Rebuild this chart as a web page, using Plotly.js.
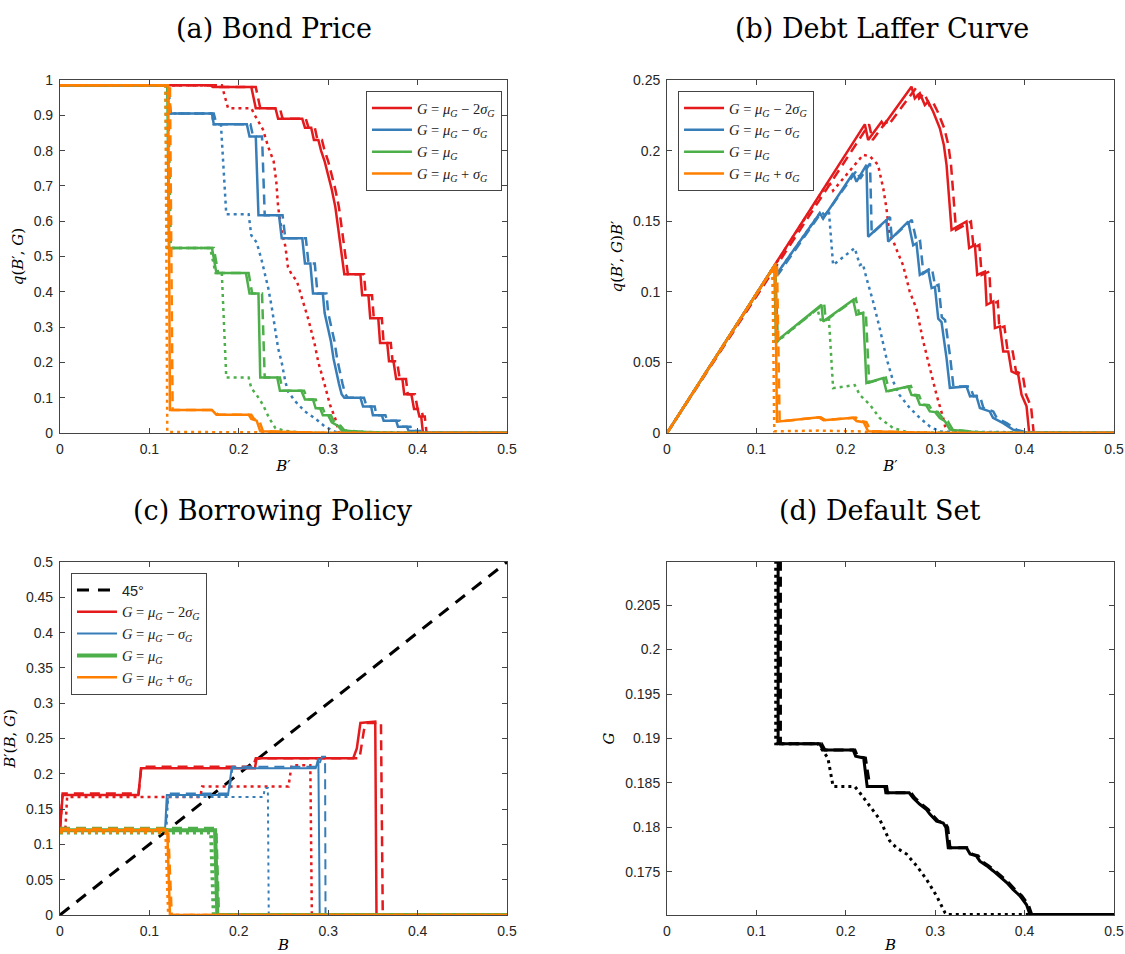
<!DOCTYPE html>
<html><head><meta charset="utf-8">
<script src="https://cdn.plot.ly/plotly-3.0.1.min.js"></script>
<style>html,body{margin:0;padding:0;background:#fff;} #chart{width:1125px;height:954px;}</style>
</head><body><div id="chart"></div>
<script>
// ---------- Panel (a): Bond price q(B',G) ----------
const a_red_s_B = [0, 0.168, 0.171, 0.214, 0.219, 0.241, 0.244, 0.271, 0.274, 0.281, 0.284, 0.289, 0.292, 0.296, 0.300, 0.304, 0.308, 0.311, 0.314, 0.316, 0.318, 0.336, 0.338, 0.345, 0.347, 0.356, 0.358, 0.366, 0.368, 0.373, 0.376, 0.383, 0.385, 0.393, 0.396, 0.400, 0.402, 0.404, 0.406, 0.5];
const a_red_s_q = [0.985, 0.985, 0.98, 0.98, 0.92, 0.92, 0.89, 0.89, 0.865, 0.865, 0.83, 0.83, 0.80, 0.77, 0.73, 0.69, 0.64, 0.58, 0.52, 0.48, 0.45, 0.45, 0.39, 0.39, 0.325, 0.325, 0.255, 0.255, 0.203, 0.203, 0.153, 0.153, 0.11, 0.11, 0.068, 0.068, 0.047, 0.047, 0, 0];
const a_red_d_B = [0, 0.172, 0.175, 0.219, 0.224, 0.246, 0.249, 0.275, 0.278, 0.285, 0.288, 0.293, 0.296, 0.300, 0.304, 0.308, 0.312, 0.315, 0.318, 0.320, 0.322, 0.340, 0.342, 0.349, 0.351, 0.360, 0.362, 0.370, 0.372, 0.377, 0.380, 0.387, 0.389, 0.397, 0.400, 0.404, 0.406, 0.408, 0.410, 0.5];
const a_red_d_q = [0.985, 0.985, 0.98, 0.98, 0.92, 0.92, 0.89, 0.89, 0.865, 0.865, 0.83, 0.83, 0.80, 0.77, 0.73, 0.69, 0.64, 0.58, 0.52, 0.48, 0.45, 0.45, 0.39, 0.39, 0.325, 0.325, 0.255, 0.255, 0.203, 0.203, 0.153, 0.153, 0.11, 0.11, 0.068, 0.068, 0.047, 0.047, 0, 0];
const a_red_o_B = [0, 0.181, 0.188, 0.214, 0.218, 0.227, 0.233, 0.239, 0.242, 0.244, 0.248, 0.252, 0.255, 0.259, 0.265, 0.270, 0.278, 0.285, 0.289, 0.296, 0.302, 0.308, 0.312, 0.5];
const a_red_o_q = [0.985, 0.985, 0.92, 0.92, 0.90, 0.86, 0.81, 0.77, 0.71, 0.64, 0.57, 0.53, 0.47, 0.45, 0.43, 0.39, 0.32, 0.25, 0.20, 0.137, 0.08, 0.04, 0, 0];

const a_blue_s_B = [0, 0.120, 0.122, 0.170, 0.172, 0.209, 0.212, 0.219, 0.222, 0.245, 0.248, 0.271, 0.274, 0.280, 0.283, 0.294, 0.296, 0.300, 0.303, 0.306, 0.309, 0.312, 0.315, 0.318, 0.336, 0.339, 0.348, 0.350, 0.360, 0.362, 0.376, 0.378, 0.388, 0.390, 0.400, 0.402, 0.5];
const a_blue_s_q = [0.985, 0.985, 0.905, 0.905, 0.875, 0.875, 0.84, 0.84, 0.617, 0.617, 0.552, 0.552, 0.48, 0.48, 0.395, 0.395, 0.34, 0.29, 0.26, 0.21, 0.17, 0.14, 0.11, 0.10, 0.10, 0.075, 0.075, 0.05, 0.05, 0.035, 0.035, 0.018, 0.018, 0.006, 0.006, 0, 0];
const a_blue_d_B = [0, 0.121, 0.124, 0.172, 0.175, 0.213, 0.216, 0.226, 0.229, 0.249, 0.252, 0.275, 0.278, 0.285, 0.288, 0.298, 0.300, 0.304, 0.307, 0.310, 0.313, 0.316, 0.319, 0.322, 0.340, 0.343, 0.352, 0.354, 0.364, 0.366, 0.380, 0.382, 0.392, 0.394, 0.403, 0.405, 0.5];
const a_blue_d_q = [0.985, 0.985, 0.905, 0.905, 0.875, 0.875, 0.84, 0.84, 0.617, 0.617, 0.552, 0.552, 0.48, 0.48, 0.395, 0.395, 0.34, 0.29, 0.26, 0.21, 0.17, 0.14, 0.11, 0.10, 0.10, 0.075, 0.075, 0.05, 0.05, 0.035, 0.035, 0.018, 0.018, 0.006, 0.006, 0, 0];
const a_blue_o_B = [0, 0.120, 0.122, 0.170, 0.172, 0.180, 0.186, 0.211, 0.214, 0.220, 0.2255, 0.229, 0.233, 0.237, 0.240, 0.244, 0.248, 0.252, 0.255, 0.263, 0.274, 0.285, 0.296, 0.308, 0.5];
const a_blue_o_q = [0.985, 0.985, 0.905, 0.905, 0.875, 0.875, 0.62, 0.62, 0.56, 0.54, 0.49, 0.45, 0.41, 0.354, 0.30, 0.24, 0.20, 0.146, 0.118, 0.09, 0.061, 0.042, 0.019, 0.003, 0];

const a_green_s_B = [0, 0.120, 0.122, 0.170, 0.175, 0.208, 0.212, 0.222, 0.224, 0.243, 0.246, 0.270, 0.274, 0.283, 0.286, 0.291, 0.294, 0.300, 0.304, 0.311, 0.315, 0.330, 0.35, 0.37, 0.5];
const a_green_s_q = [0.985, 0.985, 0.524, 0.524, 0.453, 0.453, 0.395, 0.395, 0.157, 0.157, 0.12, 0.12, 0.095, 0.095, 0.07, 0.07, 0.05, 0.05, 0.03, 0.02, 0.008, 0.004, 0.002, 0, 0];
const a_green_d_B = [0, 0.121, 0.124, 0.172, 0.177, 0.211, 0.215, 0.226, 0.229, 0.246, 0.249, 0.273, 0.277, 0.286, 0.289, 0.294, 0.297, 0.303, 0.307, 0.314, 0.318, 0.333, 0.353, 0.373, 0.5];
const a_green_d_q = [0.985, 0.985, 0.524, 0.524, 0.453, 0.453, 0.395, 0.395, 0.157, 0.157, 0.12, 0.12, 0.095, 0.095, 0.07, 0.07, 0.05, 0.05, 0.03, 0.02, 0.008, 0.004, 0.002, 0, 0];
const a_green_o_B = [0, 0.118, 0.120, 0.168, 0.174, 0.181, 0.186, 0.211, 0.214, 0.220, 0.227, 0.234, 0.241, 0.252, 0.27, 0.5];
const a_green_o_q = [0.985, 0.985, 0.524, 0.524, 0.453, 0.453, 0.157, 0.157, 0.127, 0.108, 0.08, 0.042, 0.014, 0.006, 0.001, 0];

const a_orange_s_B = [0, 0.121, 0.123, 0.170, 0.175, 0.211, 0.214, 0.220, 0.224, 0.26, 0.30, 0.5];
const a_orange_s_q = [0.985, 0.985, 0.065, 0.065, 0.052, 0.052, 0.04, 0.035, 0.005, 0.003, 0, 0];
const a_orange_d_B = [0, 0.123, 0.126, 0.172, 0.177, 0.214, 0.217, 0.223, 0.227, 0.26, 0.30, 0.5];
const a_orange_d_q = [0.985, 0.985, 0.065, 0.065, 0.052, 0.052, 0.04, 0.035, 0.005, 0.003, 0, 0];
const a_orange_o_B = [0, 0.118, 0.120, 0.17, 0.22, 0.23, 0.5];
const a_orange_o_q = [0.985, 0.985, 0.003, 0.003, 0.002, 0, 0];

// ---------- Panel (b): Debt Laffer curve q(B',G)B' ----------
const b_red_s_B = [0, 0.2213, 0.225, 0.240, 0.2425, 0.2735, 0.2772, 0.2828, 0.2884, 0.2922, 0.2978, 0.3052, 0.3097, 0.3127, 0.315, 0.3183, 0.335, 0.338, 0.3444, 0.347, 0.3556, 0.3575, 0.365, 0.3668, 0.3724, 0.3761, 0.3817, 0.3854, 0.3929, 0.3966, 0.4022, 0.4052, 0.5];
const b_red_s_v = [0, 0.2186, 0.2075, 0.2205, 0.218, 0.2453, 0.237, 0.2406, 0.2323, 0.2347, 0.2276, 0.2158, 0.204, 0.19, 0.171, 0.1439, 0.1498, 0.131, 0.1333, 0.112, 0.1144, 0.0908, 0.0932, 0.0743, 0.0755, 0.0578, 0.0578, 0.0436, 0.0413, 0.0271, 0.0189, 0, 0];
const b_red_d_B = [0, 0.226, 0.230, 0.245, 0.2475, 0.2785, 0.282, 0.2878, 0.2934, 0.2972, 0.3028, 0.3102, 0.3147, 0.3177, 0.320, 0.3233, 0.340, 0.343, 0.3494, 0.352, 0.3606, 0.3625, 0.370, 0.3718, 0.3774, 0.3811, 0.3867, 0.3904, 0.3979, 0.4016, 0.4072, 0.4102, 0.5];
const b_red_d_v = [0, 0.2186, 0.2075, 0.2205, 0.218, 0.2443, 0.237, 0.2406, 0.2323, 0.2347, 0.2276, 0.2158, 0.204, 0.19, 0.171, 0.1439, 0.1498, 0.131, 0.1333, 0.112, 0.1144, 0.0908, 0.0932, 0.0743, 0.0755, 0.0578, 0.0578, 0.0436, 0.0413, 0.0271, 0.0189, 0, 0];
const b_red_o_B = [0, 0.181, 0.1858, 0.2194, 0.227, 0.236, 0.242, 0.2455, 0.249, 0.253, 0.258, 0.264, 0.2716, 0.279, 0.2866, 0.294, 0.3015, 0.309, 0.3127, 0.5];
const b_red_o_v = [0, 0.1783, 0.1717, 0.197, 0.196, 0.19, 0.173, 0.159, 0.14, 0.136, 0.128, 0.119, 0.1, 0.088, 0.065, 0.046, 0.027, 0.0106, 0, 0];

const b_blue_s_B = [0, 0.120, 0.122, 0.1709, 0.1746, 0.2082, 0.212, 0.2231, 0.225, 0.2455, 0.2474, 0.2698, 0.2754, 0.2791, 0.2828, 0.2922, 0.296, 0.2997, 0.3034, 0.3071, 0.3127, 0.3164, 0.335, 0.339, 0.346, 0.35, 0.361, 0.3647, 0.376, 0.387, 0.402, 0.5];
const b_blue_s_v = [0, 0.1182, 0.112, 0.1557, 0.152, 0.184, 0.178, 0.19, 0.139, 0.151, 0.1356, 0.1498, 0.133, 0.1344, 0.112, 0.1156, 0.1026, 0.1035, 0.081, 0.0785, 0.053, 0.032, 0.033, 0.026, 0.0264, 0.0177, 0.0153, 0.0108, 0.007, 0.0024, 0, 0];
const b_blue_d_B = [0, 0.121, 0.124, 0.1729, 0.1766, 0.2122, 0.216, 0.2271, 0.229, 0.2495, 0.2514, 0.2738, 0.2794, 0.2831, 0.2868, 0.2962, 0.300, 0.3037, 0.3074, 0.3111, 0.3167, 0.3204, 0.339, 0.343, 0.350, 0.354, 0.365, 0.3687, 0.380, 0.391, 0.405, 0.5];
const b_blue_d_v = [0, 0.1192, 0.112, 0.1565, 0.154, 0.186, 0.18, 0.191, 0.141, 0.153, 0.138, 0.151, 0.135, 0.136, 0.113, 0.117, 0.104, 0.105, 0.082, 0.080, 0.054, 0.033, 0.033, 0.026, 0.0264, 0.0177, 0.0153, 0.0108, 0.007, 0.0024, 0, 0];
const b_blue_o_B = [0, 0.120, 0.122, 0.1709, 0.1746, 0.181, 0.1858, 0.21, 0.2157, 0.219, 0.223, 0.2306, 0.238, 0.2455, 0.253, 0.26, 0.2716, 0.283, 0.294, 0.305, 0.5];
const b_blue_o_v = [0, 0.1182, 0.112, 0.1557, 0.152, 0.158, 0.119, 0.131, 0.119, 0.12, 0.11, 0.093, 0.074, 0.053, 0.0366, 0.027, 0.0177, 0.0106, 0.0047, 0.001, 0];

const b_green_s_B = [0, 0.120, 0.122, 0.1728, 0.1746, 0.2082, 0.2119, 0.2194, 0.2231, 0.2418, 0.2455, 0.2698, 0.2735, 0.279, 0.2828, 0.29, 0.294, 0.30, 0.3052, 0.311, 0.3164, 0.33, 0.355, 0.5];
const b_green_s_v = [0, 0.1182, 0.0649, 0.0908, 0.079, 0.0943, 0.0837, 0.0849, 0.0354, 0.0389, 0.0295, 0.033, 0.027, 0.0264, 0.0201, 0.0196, 0.0153, 0.0148, 0.0106, 0.0083, 0.0024, 0.0015, 0, 0];
const b_green_d_B = [0, 0.121, 0.124, 0.1758, 0.1776, 0.2112, 0.2149, 0.2224, 0.2261, 0.2448, 0.2485, 0.2728, 0.2765, 0.282, 0.2858, 0.293, 0.297, 0.303, 0.3082, 0.314, 0.3194, 0.333, 0.358, 0.5];
const b_green_d_v = [0, 0.1192, 0.0655, 0.0916, 0.0797, 0.0952, 0.0845, 0.0857, 0.0357, 0.0392, 0.0298, 0.0333, 0.0272, 0.0266, 0.0203, 0.0198, 0.0155, 0.015, 0.0107, 0.0084, 0.0025, 0.0015, 0, 0];
const b_green_o_B = [0, 0.118, 0.120, 0.168, 0.1728, 0.181, 0.1858, 0.21, 0.2157, 0.227, 0.238, 0.253, 0.27, 0.5];
const b_green_o_v = [0, 0.1162, 0.0629, 0.088, 0.0783, 0.082, 0.0318, 0.034, 0.027, 0.02, 0.0106, 0.0035, 0.0005, 0];

const b_orange_s_B = [0, 0.121, 0.123, 0.170, 0.175, 0.2082, 0.212, 0.220, 0.225, 0.26, 0.30, 0.5];
const b_orange_s_v = [0, 0.1192, 0.008, 0.0111, 0.0091, 0.0108, 0.0085, 0.0077, 0.0012, 0.0008, 0, 0];
const b_orange_d_B = [0, 0.123, 0.126, 0.172, 0.177, 0.2112, 0.215, 0.223, 0.228, 0.263, 0.303, 0.5];
const b_orange_d_v = [0, 0.1212, 0.0082, 0.0112, 0.0092, 0.011, 0.0086, 0.0078, 0.0012, 0.0008, 0, 0];
const b_orange_o_B = [0, 0.118, 0.120, 0.17, 0.22, 0.23, 0.5];
const b_orange_o_v = [0, 0.1162, 0.0012, 0.0017, 0.0011, 0, 0];

// ---------- Panel (c): Borrowing policy B'(B,G) ----------
const c_diag_B = [0, 0.5];
const c_diag_v = [0, 0.5];
const c_red_s_B = [0, 0.003, 0.0877, 0.0907, 0.218, 0.220, 0.328, 0.332, 0.336, 0.3526, 0.354, 0.5];
const c_red_s_v = [0.12, 0.17, 0.17, 0.208, 0.208, 0.222, 0.222, 0.236, 0.272, 0.274, 0, 0];
const c_red_d_B = [0, 0.003, 0.088, 0.091, 0.216, 0.219, 0.335, 0.340, 0.343, 0.359, 0.361, 0.5];
const c_red_d_v = [0.12, 0.172, 0.172, 0.21, 0.21, 0.222, 0.222, 0.262, 0.272, 0.272, 0, 0];
const c_red_o_B = [0, 0.006, 0.008, 0.157, 0.159, 0.2556, 0.259, 0.280, 0.2817, 0.5];
const c_red_o_v = [0.12, 0.12, 0.167, 0.167, 0.182, 0.182, 0.212, 0.212, 0, 0];
const c_blue_s_B = [0, 0.1175, 0.1195, 0.188, 0.192, 0.286, 0.289, 0.2905, 0.5];
const c_blue_s_v = [0.12, 0.12, 0.17, 0.17, 0.208, 0.208, 0.222, 0, 0];
const c_blue_d_B = [0, 0.118, 0.121, 0.189, 0.193, 0.289, 0.293, 0.2965, 0.297, 0.5];
const c_blue_d_v = [0.12, 0.12, 0.172, 0.172, 0.21, 0.21, 0.224, 0.224, 0, 0];
const c_blue_o_B = [0, 0.119, 0.121, 0.2276, 0.229, 0.2325, 0.2335, 0.5];
const c_blue_o_v = [0.12, 0.12, 0.167, 0.167, 0.18, 0.18, 0, 0];
const c_green_s_B = [0, 0.1735, 0.176, 0.5];
const c_green_s_v = [0.12, 0.12, 0, 0];
const c_green_d_B = [0, 0.174, 0.177, 0.5];
const c_green_d_v = [0.122, 0.122, 0, 0];
const c_green_o_B = [0, 0.169, 0.172, 0.5];
const c_green_o_v = [0.117, 0.117, 0, 0];
const c_orange_s_B = [0, 0.120, 0.123, 0.5];
const c_orange_s_v = [0.12, 0.12, 0, 0];
const c_orange_d_B = [0, 0.121, 0.125, 0.5];
const c_orange_d_v = [0.122, 0.122, 0, 0];
const c_orange_o_B = [0, 0.118, 0.121, 0.5];
const c_orange_o_v = [0.117, 0.117, 0, 0];

// ---------- Panel (d): Default set ----------
const d_s_B = [0.1243, 0.1243, 0.1709, 0.1746, 0.2082, 0.211, 0.22, 0.2239, 0.2437, 0.2448, 0.2709, 0.2754, 0.2828, 0.2903, 0.294, 0.3015, 0.309, 0.312, 0.3146, 0.335, 0.339, 0.346, 0.35, 0.3575, 0.365, 0.3724, 0.38, 0.3873, 0.3948, 0.4022, 0.406, 0.5];
const d_s_G = [0.21, 0.1894, 0.1894, 0.1887, 0.1887, 0.188, 0.1878, 0.1846, 0.1846, 0.1839, 0.1839, 0.1833, 0.1826, 0.182, 0.1815, 0.1807, 0.1805, 0.18, 0.1777, 0.1777, 0.177, 0.1768, 0.1762, 0.1757, 0.1751, 0.1745, 0.1738, 0.173, 0.1723, 0.1713, 0.1702, 0.1702];
const d_d_B = [0.1269, 0.1269, 0.1729, 0.1766, 0.2102, 0.213, 0.222, 0.2269, 0.2457, 0.2468, 0.2729, 0.2774, 0.2848, 0.2923, 0.296, 0.3035, 0.311, 0.314, 0.3166, 0.337, 0.341, 0.348, 0.352, 0.3595, 0.367, 0.3744, 0.382, 0.3893, 0.3968, 0.4042, 0.408, 0.5];
const d_d_G = [0.21, 0.1894, 0.1894, 0.1887, 0.1887, 0.188, 0.1878, 0.1846, 0.1846, 0.1839, 0.1839, 0.1833, 0.1826, 0.182, 0.1815, 0.1807, 0.1805, 0.18, 0.1777, 0.1777, 0.177, 0.1768, 0.1762, 0.1757, 0.1751, 0.1745, 0.1738, 0.173, 0.1723, 0.1713, 0.1702, 0.1702];
const d_o_B = [0.1216, 0.1216, 0.169, 0.18, 0.1858, 0.21, 0.2157, 0.227, 0.238, 0.249, 0.2567, 0.268, 0.279, 0.29, 0.3015, 0.311, 0.3127, 0.5];
const d_o_G = [0.21, 0.1894, 0.1894, 0.1878, 0.1846, 0.1846, 0.1839, 0.1824, 0.1809, 0.1785, 0.1777, 0.177, 0.1757, 0.1742, 0.1723, 0.1704, 0.1702, 0.1702];

// ---------- labels ----------
const seriesNames = [
  '<i>G</i> = <i>μ</i><sub><i>G</i></sub> − 2<i>σ</i><sub><i>G</i></sub>',
  '<i>G</i> = <i>μ</i><sub><i>G</i></sub> − <i>σ</i><sub><i>G</i></sub>',
  '<i>G</i> = <i>μ</i><sub><i>G</i></sub>',
  '<i>G</i> = <i>μ</i><sub><i>G</i></sub> + <i>σ</i><sub><i>G</i></sub>'
];
const diagName = '<span style="font-family:Liberation Sans">45°</span>';
const panelTitles = ['(a) Bond Price', '(b) Debt Laffer Curve', '(c) Borrowing Policy', '(d) Default Set'];
const xTickVals = [0, 0.1, 0.2, 0.3, 0.4, 0.5];
const yTickA = [0, 0.1, 0.2, 0.3, 0.4, 0.5, 0.6, 0.7, 0.8, 0.9, 1];
const yTickB = [0, 0.05, 0.1, 0.15, 0.2, 0.25];
const yTickC = [0, 0.05, 0.1, 0.15, 0.2, 0.25, 0.3, 0.35, 0.4, 0.45, 0.5];
const yTickD = [0.175, 0.18, 0.185, 0.19, 0.195, 0.2, 0.205];

const COLORS = ['#E41A1C', '#377EB8', '#4DAF4A', '#FF7F00'];
const DASH = {s: 'solid', d: '10px,6px', o: '3px,4px'};

const traces = [];
function add(x, y, xa, ya, color, width, style, name, legend, show) {
  traces.push({
    type: 'scatter', mode: 'lines', x: x, y: y, xaxis: xa, yaxis: ya,
    line: {color: color, width: width, dash: DASH[style]},
    name: name, legend: legend, showlegend: !!show, hoverinfo: 'skip'
  });
}

const A = [[a_red_s_B,a_red_s_q,a_red_d_B,a_red_d_q,a_red_o_B,a_red_o_q],
           [a_blue_s_B,a_blue_s_q,a_blue_d_B,a_blue_d_q,a_blue_o_B,a_blue_o_q],
           [a_green_s_B,a_green_s_q,a_green_d_B,a_green_d_q,a_green_o_B,a_green_o_q],
           [a_orange_s_B,a_orange_s_q,a_orange_d_B,a_orange_d_q,a_orange_o_B,a_orange_o_q]];
const Bp = [[b_red_s_B,b_red_s_v,b_red_d_B,b_red_d_v,b_red_o_B,b_red_o_v],
           [b_blue_s_B,b_blue_s_v,b_blue_d_B,b_blue_d_v,b_blue_o_B,b_blue_o_v],
           [b_green_s_B,b_green_s_v,b_green_d_B,b_green_d_v,b_green_o_B,b_green_o_v],
           [b_orange_s_B,b_orange_s_v,b_orange_d_B,b_orange_d_v,b_orange_o_B,b_orange_o_v]];
const C = [[c_red_s_B,c_red_s_v,c_red_d_B,c_red_d_v,c_red_o_B,c_red_o_v],
           [c_blue_s_B,c_blue_s_v,c_blue_d_B,c_blue_d_v,c_blue_o_B,c_blue_o_v],
           [c_green_s_B,c_green_s_v,c_green_d_B,c_green_d_v,c_green_o_B,c_green_o_v],
           [c_orange_s_B,c_orange_s_v,c_orange_d_B,c_orange_d_v,c_orange_o_B,c_orange_o_v]];

for (let i = 0; i < 4; i++) {
  const S = A[i];
  add(S[0], S[1], 'x', 'y', COLORS[i], 2.5, 's', seriesNames[i], 'legend', true);
  add(S[2], S[3], 'x', 'y', COLORS[i], 2.5, 'd', seriesNames[i], 'legend', false);
  add(S[4], S[5], 'x', 'y', COLORS[i], 2.5, 'o', seriesNames[i], 'legend', false);
}
for (let i = 0; i < 4; i++) {
  const S = Bp[i];
  add(S[0], S[1], 'x2', 'y2', COLORS[i], 2.5, 's', seriesNames[i], 'legend2', true);
  add(S[2], S[3], 'x2', 'y2', COLORS[i], 2.5, 'd', seriesNames[i], 'legend2', false);
  add(S[4], S[5], 'x2', 'y2', COLORS[i], 2.5, 'o', seriesNames[i], 'legend2', false);
}
traces.push({type:'scatter', mode:'lines', x:c_diag_B, y:c_diag_v, xaxis:'x3', yaxis:'y3',
  line:{color:'#000', width:3, dash:'12px,9px'}, name: diagName, legend:'legend3', showlegend:true, hoverinfo:'skip'});
const cW = [2.5, 2, 4, 2.5];
for (let i = 0; i < 4; i++) {
  const S = C[i];
  add(S[0], S[1], 'x3', 'y3', COLORS[i], cW[i], 's', seriesNames[i], 'legend3', true);
  add(S[2], S[3], 'x3', 'y3', COLORS[i], cW[i], 'd', seriesNames[i], 'legend3', false);
  add(S[4], S[5], 'x3', 'y3', COLORS[i], cW[i], 'o', seriesNames[i], 'legend3', false);
}
add(d_s_B, d_s_G, 'x4', 'y4', '#000', 3, 's', 'solid', 'legend', false);
add(d_d_B, d_d_G, 'x4', 'y4', '#000', 3, 'd', 'dashed', 'legend', false);
add(d_o_B, d_o_G, 'x4', 'y4', '#000', 3, 'o', 'dotted', 'legend', false);

const AX = '#444';
const tickFont = {family: 'Liberation Sans, Arial, sans-serif', size: 14, color: '#262626'};
const labFont = {family: 'DejaVu Serif, serif', size: 15, color: '#000'};
function xax(domain, anchor, title) {
  return {domain: domain, anchor: anchor, range: [0, 0.5], tickvals: xTickVals,
    ticktext: xTickVals.map(String),
    showline: true, linecolor: AX, linewidth: 1, mirror: 'ticks', ticks: 'inside', ticklen: 5,
    tickcolor: AX, showgrid: false, zeroline: false, tickfont: tickFont, automargin: false,
    ticklabelstandoff: 3,
    title: {text: title, font: labFont, standoff: 4}};
}
function yax(domain, anchor, range, tv, title) {
  return {domain: domain, anchor: anchor, range: range, tickvals: tv, ticktext: tv.map(String),
    showline: true, linecolor: AX, linewidth: 1, mirror: 'ticks', ticks: 'inside', ticklen: 5,
    tickcolor: AX, showgrid: false, zeroline: false, tickfont: tickFont, automargin: false,
    ticklabelstandoff: 3,
    title: {text: title, font: labFont, standoff: 6}};
}
const xL = [0.0533, 0.4507], xR = [0.5929, 0.9902];
const yT = [0.5461, 0.9161], yB = [0.0409, 0.4109];
const legStyle = {bgcolor: '#fff', bordercolor: '#444', borderwidth: 1,
  font: {family: 'Liberation Serif, serif', size: 14.5, color: '#222'},
  xanchor: 'left', yanchor: 'top', itemwidth: 40, tracegroupgap: 0};

const titleFont = {family: 'DejaVu Serif, serif', size: 27, color: '#000'};
const layout = {
  width: 1125, height: 954, margin: {l: 0, r: 0, t: 0, b: 0},
  paper_bgcolor: '#fff', plot_bgcolor: '#fff', showlegend: true,
  xaxis: xax(xL, 'y', '<i>B</i>′'),
  yaxis: yax(yT, 'x', [0, 1], yTickA, '<i>q</i>(<i>B</i>′, <i>G</i>)'),
  xaxis2: xax(xR, 'y2', '<i>B</i>′'),
  yaxis2: yax(yT, 'x2', [0, 0.25], yTickB, '<i>q</i>(<i>B</i>′, <i>G</i>)<i>B</i>′'),
  xaxis3: xax(xL, 'y3', '<i>B</i>'),
  yaxis3: yax(yB, 'x3', [0, 0.5], yTickC, '<i>B</i>′(<i>B</i>, <i>G</i>)'),
  xaxis4: xax(xR, 'y4', '<i>B</i>'),
  yaxis4: yax(yB, 'x4', [0.17015, 0.20985], yTickD, '<i>G</i>'),
  legend: Object.assign({}, legStyle, {x: 0.3253, y: 0.9046}),
  legend2: Object.assign({}, legStyle, {x: 0.6027, y: 0.9046}),
  legend3: Object.assign({}, legStyle, {x: 0.0631, y: 0.3994}),
  annotations: [
    {text: panelTitles[0], x: 0.2436, y: 0.9706},
    {text: panelTitles[1], x: 0.784, y: 0.9706},
    {text: panelTitles[2], x: 0.2427, y: 0.4654},
    {text: panelTitles[3], x: 0.7822, y: 0.4654}
  ].map(a => Object.assign(a, {xref: 'paper', yref: 'paper', xanchor: 'center', yanchor: 'middle',
      showarrow: false, font: titleFont}))
};
Plotly.newPlot('chart', traces, layout, {staticPlot: true, displayModeBar: false});
</script></body></html>
